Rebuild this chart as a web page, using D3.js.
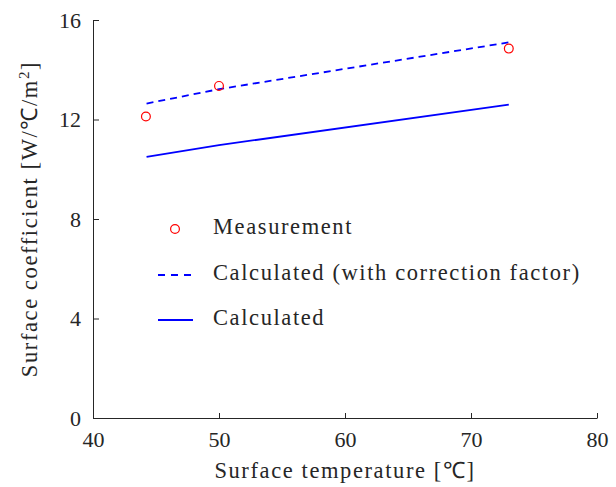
<!DOCTYPE html>
<html><head><meta charset="utf-8">
<script src="https://cdn.jsdelivr.net/npm/d3@7"></script>
<style>body{margin:0;background:#fff}svg{display:block}</style>
</head><body>
<script>
const measX = [44.2, 50, 73];
const measY = [12.12, 13.35, 14.85];
const corrX = [44.25, 50, 73];
const corrY = [12.64, 13.22, 15.1];
const calcX = [44.25, 50, 73];
const calcY = [10.5, 10.97, 12.6];
const xTicks = [40, 50, 60, 70, 80];
const yTicks = [0, 4, 8, 12, 16];
const legendLabels = ["Measurement", "Calculated (with correction factor)", "Calculated"];

const W = 616, H = 487;
const FONT = "'Liberation Serif', serif";
const LS = "1.6px";
const FS = "22.5px";
const axisCol = "#262626";
const svg = d3.select("body").append("svg").attr("width", W).attr("height", H);

const x = d3.scaleLinear().domain([40, 80]).range([93, 597]);
const y = d3.scaleLinear().domain([0, 16]).range([418, 20]);

// axes
const xAxis = svg.append("g").attr("transform", `translate(0,${y(0)})`)
  .call(d3.axisBottom(x).tickValues(xTicks).tickSizeInner(-5).tickSizeOuter(0).tickPadding(13));
const yAxis = svg.append("g").attr("transform", `translate(${x(40)},0)`)
  .call(d3.axisLeft(y).tickValues(yTicks).tickSizeInner(-6).tickSizeOuter(0).tickPadding(12));
[xAxis, yAxis].forEach(g => {
  g.select(".domain").attr("stroke", axisCol).attr("stroke-width", 1);
  g.selectAll(".tick line").attr("stroke", axisCol).attr("stroke-width", 1);
  g.selectAll(".tick text").attr("fill", axisCol).style("font-family", FONT).style("font-size", "22px");
});
xAxis.selectAll(".tick text").attr("dy", "0.71em");

// axis labels
svg.append("text").attr("x", x(60)).attr("y", 478).attr("text-anchor", "middle")
  .style("font-family", FONT).style("font-size", FS).style("letter-spacing", LS).attr("fill", axisCol)
  .text("Surface temperature [℃]");
const yl = svg.append("text").attr("transform", `translate(37,${y(8)}) rotate(-90)`)
  .attr("text-anchor", "middle").style("font-family", FONT).style("font-size", FS)
  .style("letter-spacing", LS).attr("fill", axisCol);
yl.append("tspan").text("Surface coefficient [W/℃/m");
yl.append("tspan").attr("dy", -8).style("font-size", "15px").text("2");
yl.append("tspan").attr("dy", 8).text("]");

// lines
const line = d3.line().x(d => x(d[0])).y(d => y(d[1]));
svg.append("path").datum(d3.zip(corrX, corrY)).attr("d", line)
  .attr("fill", "none").attr("stroke", "#0000ff").attr("stroke-width", 1.8).attr("stroke-dasharray", "7,5");
svg.append("path").datum(d3.zip(calcX, calcY)).attr("d", line)
  .attr("fill", "none").attr("stroke", "#0000ff").attr("stroke-width", 1.8);
svg.selectAll("circle.m").data(d3.zip(measX, measY)).join("circle").attr("class", "m")
  .attr("cx", d => x(d[0])).attr("cy", d => y(d[1])).attr("r", 4.4)
  .attr("fill", "none").attr("stroke", "#ff0000").attr("stroke-width", 1.2);

// legend
const lg = svg.append("g");
const ly = [229, 275, 320];
lg.append("circle").attr("cx", 175).attr("cy", ly[0]).attr("r", 4.4)
  .attr("fill", "none").attr("stroke", "#ff0000").attr("stroke-width", 1.2);
lg.append("line").attr("x1", 158).attr("x2", 193).attr("y1", ly[1]).attr("y2", ly[1])
  .attr("stroke", "#0000ff").attr("stroke-width", 1.8).attr("stroke-dasharray", "7,6");
lg.append("line").attr("x1", 158).attr("x2", 193).attr("y1", ly[2]).attr("y2", ly[2])
  .attr("stroke", "#0000ff").attr("stroke-width", 1.8);
legendLabels.forEach((t, i) => {
  lg.append("text").attr("x", 213).attr("y", ly[i] + 5)
    .style("font-family", FONT).style("font-size", FS).style("letter-spacing", LS)
    .attr("fill", axisCol).text(t);
});
</script>
</body></html>
